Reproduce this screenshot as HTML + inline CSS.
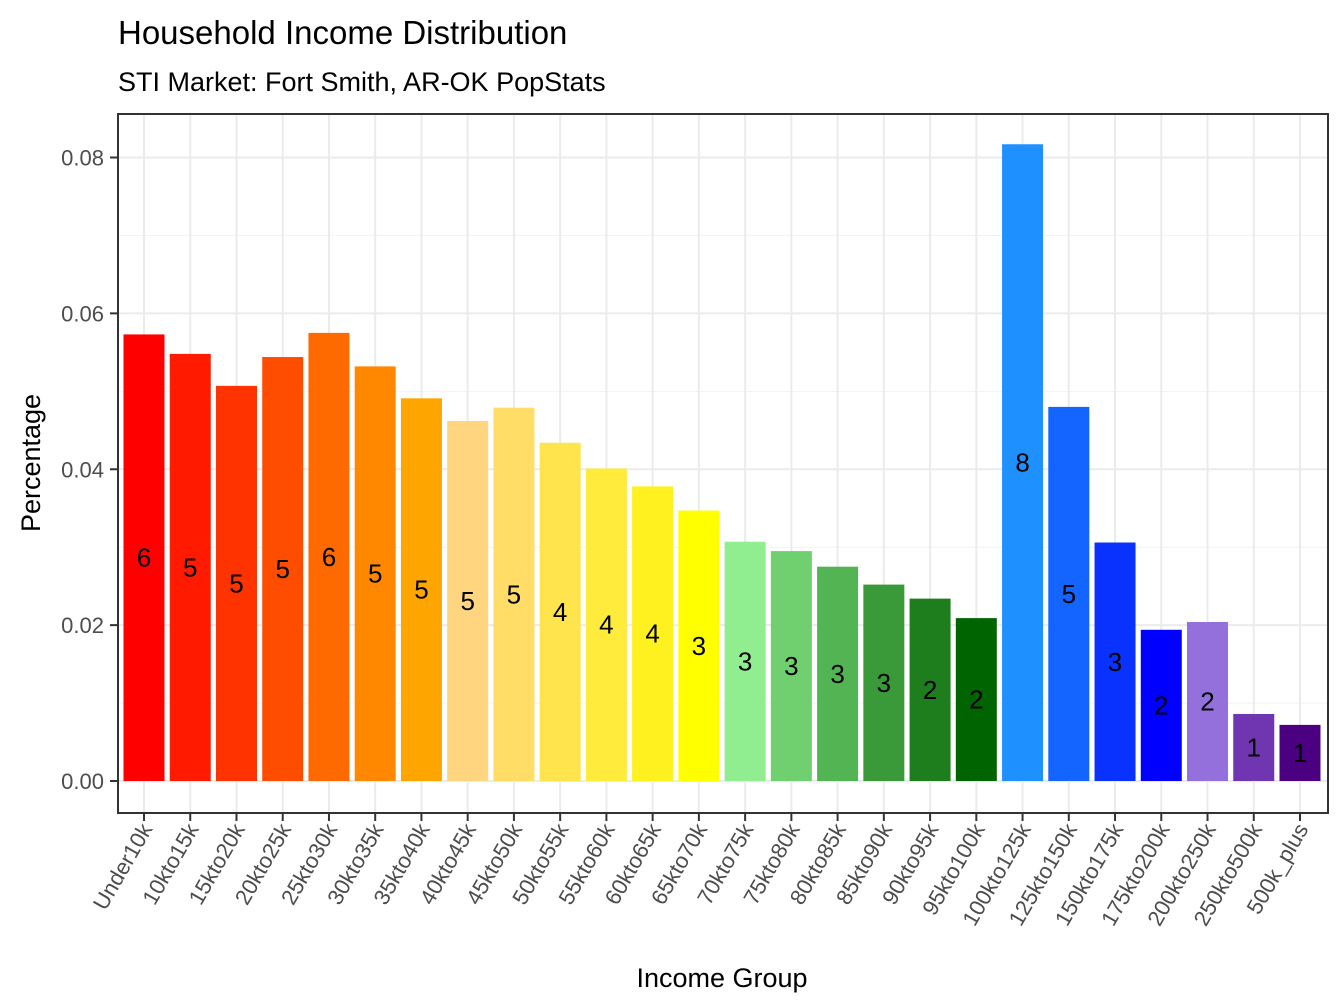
<!DOCTYPE html>
<html><head><meta charset="utf-8"><style>
body{margin:0;background:#fff}
svg{display:block;font-family:"Liberation Sans",Arial,sans-serif}
</style></head><body>
<svg id="chart" width="1344" height="1008" viewBox="0 0 1344 1008">
<text x="118" y="44" font-size="33" fill="#000">Household Income Distribution</text>
<text x="118" y="91" font-size="27" fill="#000">STI Market: Fort Smith, AR-OK PopStats</text>
<g id="grid"></g>
<g id="bars"></g>
<g id="labels"></g>
<rect x="118" y="114" width="1210" height="699" fill="none" stroke="#333" stroke-width="2"/>
<g id="yaxis"></g>
<g id="xaxis"></g>
<text transform="translate(40,463) rotate(-90)" text-anchor="middle" font-size="27" fill="#000">Percentage</text>
<text x="722" y="987" text-anchor="middle" font-size="27" fill="#000">Income Group</text>
</svg>
<script>
const categories=["Under10k","10kto15k","15kto20k","20kto25k","25kto30k","30kto35k","35kto40k","40kto45k","45kto50k","50kto55k","55kto60k","60kto65k","65kto70k","70kto75k","75kto80k","80kto85k","85kto90k","90kto95k","95kto100k","100kto125k","125kto150k","150kto175k","175kto200k","200kto250k","250kto500k","500k_plus"];
const values=[0.0573,0.0548,0.0507,0.0544,0.0575,0.0532,0.0491,0.0462,0.0479,0.0434,0.0401,0.0378,0.0347,0.0307,0.0295,0.0275,0.0252,0.0234,0.0209,0.0817,0.0480,0.0306,0.0194,0.0204,0.0086,0.0072];
const barLabels=["6","5","5","5","6","5","5","5","5","4","4","4","3","3","3","3","3","2","2","8","5","3","2","2","1","1"];
const colors=["#FF0000","#FF1A00","#FF3300","#FF4D00","#FF6A00","#FF8800","#FFA500","#FFD580","#FFDD66","#FFE44D","#FFEB3B","#FFF020","#FFFF00","#90EE90","#70D070","#52B452","#3A9A3A","#1E7E1E","#006400","#1E90FF","#1464FF","#0A32FF","#0000FF","#9370DB","#7035B0","#4B0082"];
const yTicks=[0,0.02,0.04,0.06,0.08];
const yTickLabels=["0.00","0.02","0.04","0.06","0.08"];
const NS="http://www.w3.org/2000/svg";
const x0=144,step=46.24,bw=41;
function xs(i){return x0+i*step;}
function ys(v){return 781-v*(781-157.5)/0.08;}
function mk(tag,attrs,parent){const e=document.createElementNS(NS,tag);for(const k in attrs)e.setAttribute(k,attrs[k]);parent.appendChild(e);return e;}
const grid=document.getElementById('grid'),bars=document.getElementById('bars'),labels=document.getElementById('labels'),yaxis=document.getElementById('yaxis'),xaxis=document.getElementById('xaxis');
for(let v=0.01;v<0.09;v+=0.02){const y=ys(v);if(y<114)continue;const l=mk('line',{x1:118,x2:1328,y1:y,y2:y,stroke:'#f2f2f2','stroke-width':1},grid);}
yTicks.forEach((v,i)=>{const y=ys(v);
const g=mk('line',{x1:118,x2:1328,y1:y,y2:y,stroke:'#ebebeb','stroke-width':2},grid);
const t=mk('line',{x1:110,x2:118,y1:y,y2:y,stroke:'#333','stroke-width':2},yaxis);
const tx=mk('text',{x:104,y:y+8,'text-anchor':'end','font-size':22,fill:'#4d4d4d'},yaxis);tx.textContent=yTickLabels[i];});
categories.forEach((c,i)=>{const x=xs(i);
const g=mk('line',{x1:x,x2:x,y1:114,y2:813,stroke:'#ebebeb','stroke-width':2},grid);
const r=mk('rect',{x:x-bw/2,y:ys(values[i]),width:bw,height:ys(0)-ys(values[i]),fill:colors[i]},bars);
const lb=mk('text',{x:x,y:(ys(values[i])+ys(0))/2+9,'text-anchor':'middle','font-size':26,fill:'#000'},labels);lb.textContent=barLabels[i];
const t=mk('line',{x1:x,x2:x,y1:813,y2:821,stroke:'#333','stroke-width':2},xaxis);
const tx=mk('text',{transform:`translate(${x+9},829) rotate(-60)`,'text-anchor':'end','font-size':22,fill:'#4d4d4d'},xaxis);tx.textContent=c;});
</script>
</body></html>
